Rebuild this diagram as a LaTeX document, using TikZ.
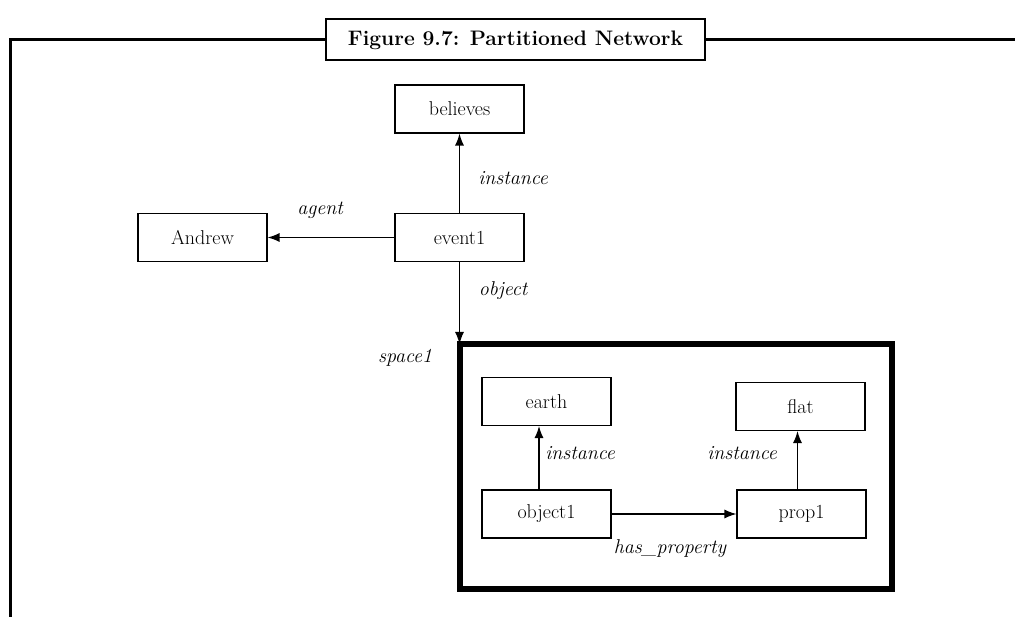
\documentclass[tikz,border=0pt]{standalone}
\usepackage{fontspec}
\setmainfont{Latin Modern Roman}
\usetikzlibrary{arrows.meta}
\begin{document}
\begin{tikzpicture}[x=1pt,y=-1pt,
  box/.style={draw,line width=1.1pt,minimum width=129pt,minimum height=48pt,inner sep=0pt,font=\fontsize{20}{22}\selectfont},
  arr/.style={line width=1.2pt,-{Latex[length=12pt,width=9pt]}},
  lbl/.style={font=\fontsize{20}{22}\selectfont\itshape,inner sep=0pt}]
\useasboundingbox (0,0) rectangle (1015,617);
% outer frame and caption
\coordinate (fr) at (1015,40);
\coordinate (fc) at (10,40);
\coordinate (fb) at (10,617);
\draw[line width=3pt] (fr) -- (fc) -- (fb);
\node[draw,fill=white,line width=2pt,minimum width=379pt,minimum height=41pt,inner sep=0pt,
      font=\fontsize{21}{23}\selectfont\bfseries] (title) at (515.5,40) {Figure 9.7: Partitioned Network};
% upper network
\node[box] (believes) at (459.5,109) {believes};
\node[box] (andrew) at (202.5,237.5) {Andrew};
\node[box] (event1) at (459.5,237.5) {event1};
% partition
\node[draw,line width=6pt,minimum width=432pt,minimum height=245pt,inner sep=0pt] (space) at (676,466.5) {};
\node[lbl] (spacelbl) at (405,358) {space1};
\node[box] (earth) at (546.5,401.5) {earth};
\node[box] (flat) at (800.5,406.5) {flat};
\node[box] (object1) at (546.5,514) {object1};
\node[box] (prop1) at (801.5,514) {prop1};
% connectors
\draw[arr] (event1) -- (believes);
\draw[arr] (event1) -- (andrew);
\draw[arr] (event1.south) -- ([yshift=-3pt]event1.south |- space.north);
\draw[arr] ([xshift=-7.5pt]object1.north) -- ([xshift=-7.5pt]earth.south);
\draw[arr] ([xshift=-4pt]prop1.north) -- ([xshift=-4pt]prop1.north |- flat.south);
\draw[arr] (object1.east) -- (prop1.west);
% edge labels
\node[lbl] at (513,178) {instance};
\node[lbl] at (320,210) {agent};
\node[lbl] at (503,291) {object};
\node[lbl] at (580,453) {instance};
\node[lbl] at (742,453) {instance};
\node[lbl] at (670,549) {has\_property};
\end{tikzpicture}
\end{document}
